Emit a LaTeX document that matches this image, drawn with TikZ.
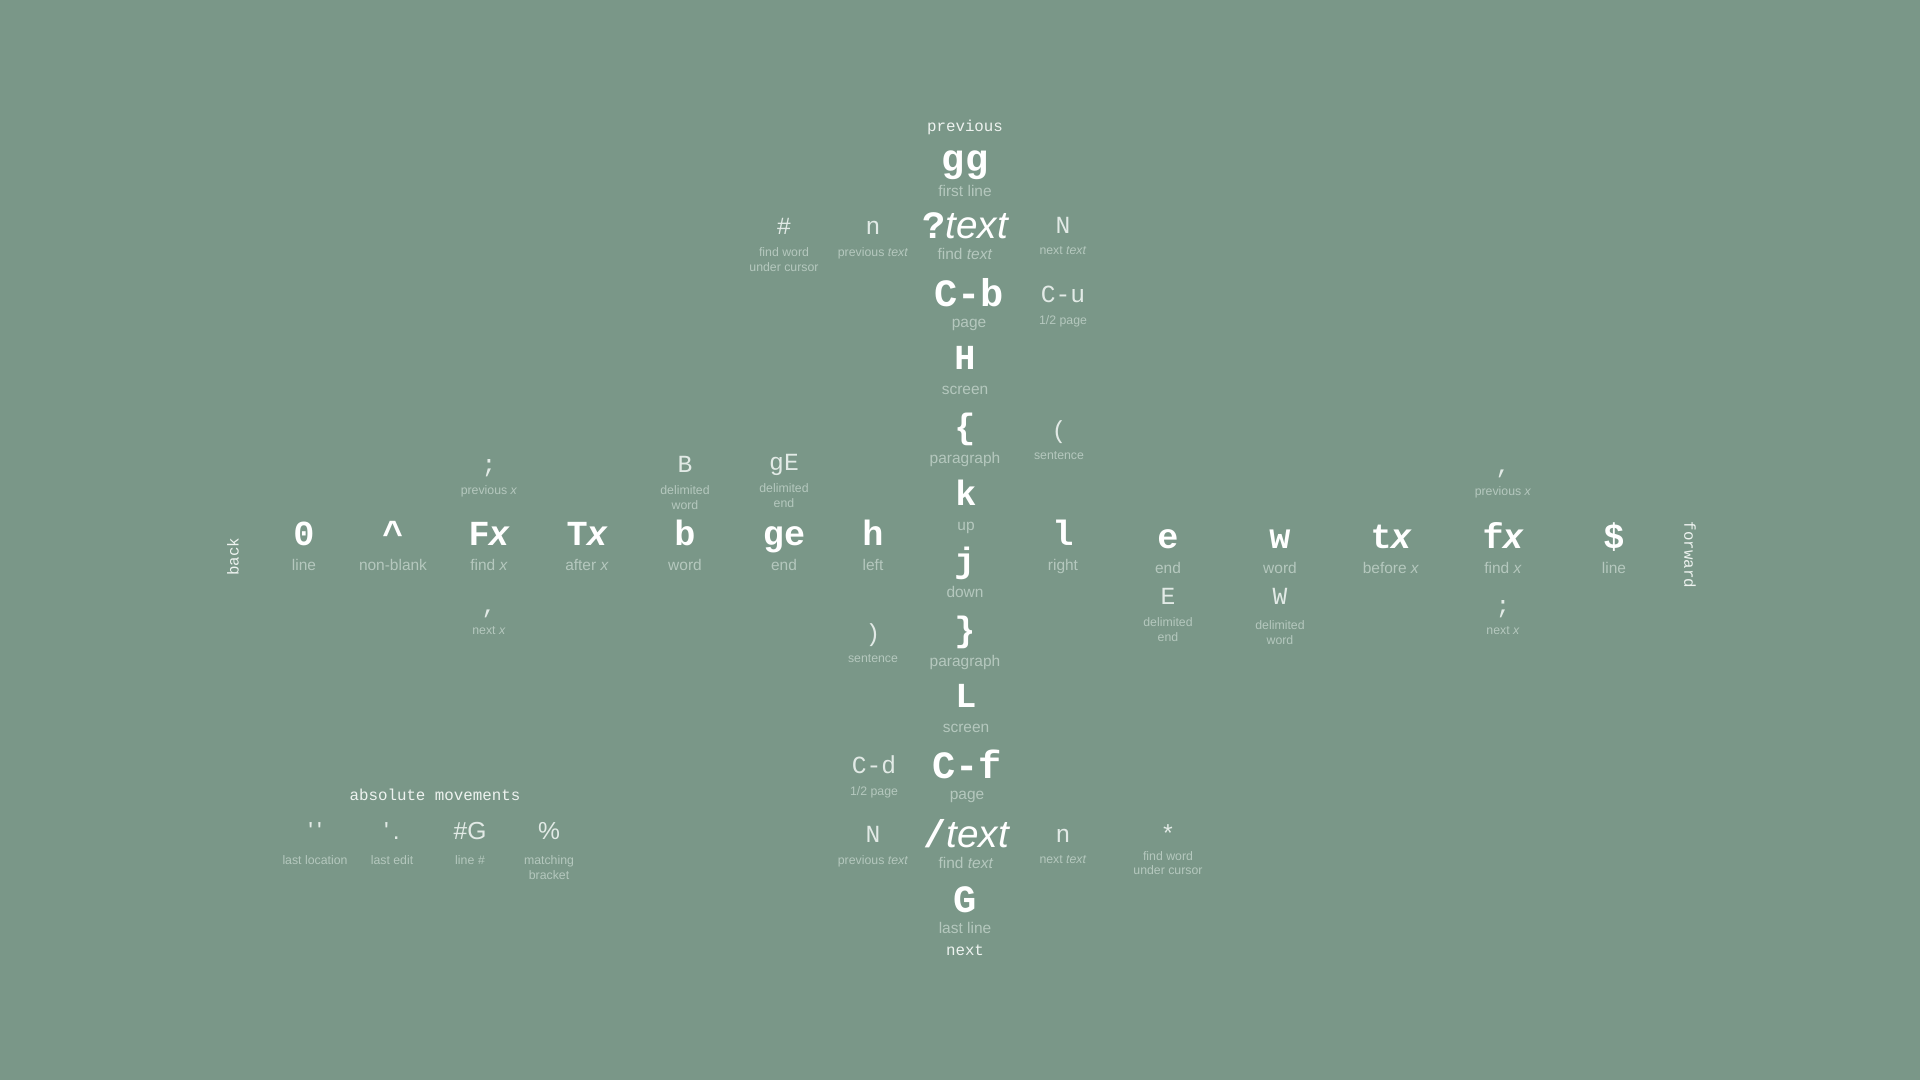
\documentclass[tikz,border=0pt]{standalone}
\usepackage{fontspec}
\setmainfont{Liberation Sans}
\newfontfamily\keyfont{Liberation Mono}
\definecolor{VimBg}{HTML}{7A9788}
\definecolor{VimKey}{HTML}{FFFFFF}
\definecolor{VimKeyDim}{HTML}{E2EAE6}
\definecolor{VimDesc}{HTML}{B5C8BE}
\definecolor{VimHead}{HTML}{EEF3F0}
\usetikzlibrary{positioning}

\begin{document}
\begin{tikzpicture}[x=0.01cm, y=-0.01cm, node distance=1.4pt,
    every node/.style={inner sep=0pt, align=center},
    keybox/.style={font=\keyfont\bfseries\fontsize{10}{12}\selectfont, text=VimKey, text height=7.5pt, text depth=2pt},
    bigkey/.style={keybox, font=\keyfont\bfseries\fontsize{11}{13}\selectfont},
    minorkey/.style={keybox, font=\keyfont\fontsize{7}{8}\selectfont, text=VimKeyDim},
    abskey/.style={keybox, font=\rmfamily\fontsize{7}{8}\selectfont, text=VimKeyDim},
    desc/.style={font=\fontsize{4.4}{5.2}\selectfont, text=VimDesc, text height=3.3pt},
    smalldesc/.style={font=\fontsize{3.5}{4.2}\selectfont, text=VimDesc},
    heading/.style={font=\keyfont\fontsize{4.5}{5.4}\selectfont, text=VimHead}]
  \fill[VimBg] (0,0) rectangle (1920,1080);

  % up and down
  \node[heading] (prev) at (965,127) {previous};
  \node[bigkey] (gg) at (965,162) {gg};
  \node[desc, below=of gg] (gg-d) {first line};
  \node[bigkey] (qtext) at (965,229) {?{\rmfamily\mdseries\itshape text}};
  \node[desc, below=0.3pt of qtext] (qtext-d) {find \textit{text}};
  \node[bigkey] (Cb) at (969,297) {C-b};
  \node[desc, below=0.3pt of Cb] (Cb-d) {page};
  \node[keybox] (H) at (965,360) {H};
  \node[desc, below=of H] (H-d) {screen};
  \node[keybox] (lbrace) at (965,429) {\{};
  \node[desc, below=of lbrace] (lbrace-d) {paragraph};
  \node[keybox] (k) at (966,496) {k};
  \node[desc, below=of k] (k-d) {up};
  \node[keybox] (j) at (965,563) {j};
  \node[desc, below=of j] (j-d) {down};
  \node[keybox] (rbrace) at (965,632) {\}};
  \node[desc, below=of rbrace] (rbrace-d) {paragraph};
  \node[keybox] (L) at (966,698) {L};
  \node[desc, below=of L] (L-d) {screen};
  \node[bigkey] (Cf) at (967,769) {C-f};
  \node[desc, below=0.3pt of Cf] (Cf-d) {page};
  \node[bigkey] (stext) at (966,838) {/{\rmfamily\mdseries\itshape text}};
  \node[desc, below=0.3pt of stext] (stext-d) {find \textit{text}};
  \node[bigkey] (G) at (965,903) {G};
  \node[desc, below=0.3pt of G] (G-d) {last line};
  \node[heading] (next) at (965,950) {next};

  % beside the column
  \node[minorkey] (hash) at (784,225) {\#};
  \node[smalldesc, below=of hash] (hash-d) {find word\\under cursor};
  \node[minorkey] (n) at (873,225) {n};
  \node[smalldesc, below=of n] (n-d) {previous \textit{text}};
  \node[minorkey] (N) at (1063,224) {N};
  \node[smalldesc, below=of N] (N-d) {next \textit{text}};
  \node[minorkey] (Cu) at (1063,293) {C-u};
  \node[smalldesc, below=of Cu] (Cu-d) {1/2 page};
  \node[minorkey] (lparen) at (1059,429) {(};
  \node[smalldesc, below=of lparen] (lparen-d) {sentence};
  \node[minorkey] (rparen) at (873,632) {)};
  \node[smalldesc, below=of rparen] (rparen-d) {sentence};
  \node[minorkey] (Cd) at (874,764) {C-d};
  \node[smalldesc, below=of Cd] (Cd-d) {1/2 page};
  \node[minorkey] (N2) at (873,833) {N};
  \node[smalldesc, below=of N2] (N2-d) {previous \textit{text}};
  \node[minorkey] (n2) at (1063,833) {n};
  \node[smalldesc, below=of n2] (n2-d) {next \textit{text}};
  \node[minorkey] (star) at (1168,833) {*};
  \node[smalldesc, below=0pt of star] (star-d) {find word\\under cursor};

  % back and forward
  \node[heading, rotate=90] (back) at (233,557) {back};
  \node[keybox] (zero) at (304,536) {0};
  \node[desc, below=of zero] (zero-d) {line};
  \node[keybox] (caret) at (393,536) {\textasciicircum};
  \node[desc, below=of caret] (caret-d) {non-blank};
  \node[minorkey] (semi) at (489,463) {;};
  \node[smalldesc, below=of semi] (semi-d) {previous \textit{x}};
  \node[keybox] (Fx) at (489,536) {F{\rmfamily\itshape x}};
  \node[desc, below=of Fx] (Fx-d) {find \textit{x}};
  \node[minorkey] (comma) at (489,604) {,};
  \node[smalldesc, below=of comma] (comma-d) {next \textit{x}};
  \node[keybox] (Tx) at (587,536) {T{\rmfamily\itshape x}};
  \node[desc, below=of Tx] (Tx-d) {after \textit{x}};
  \node[minorkey] (B) at (685,463) {B};
  \node[smalldesc, below=of B] (B-d) {delimited\\word};
  \node[keybox] (b) at (685,536) {b};
  \node[desc, below=of b] (b-d) {word};
  \node[minorkey] (gE) at (784,461) {gE};
  \node[smalldesc, below=of gE] (gE-d) {delimited\\end};
  \node[keybox] (ge) at (784,536) {ge};
  \node[desc, below=of ge] (ge-d) {end};
  \node[keybox] (h) at (873,536) {h};
  \node[desc, below=of h] (h-d) {left};
  \node[keybox] (l) at (1063,536) {l};
  \node[desc, below=of l] (l-d) {right};
  \node[keybox] (e) at (1168,539) {e};
  \node[desc, below=of e] (e-d) {end};
  \node[minorkey] (E) at (1168,595) {E};
  \node[smalldesc, below=of E] (E-d) {delimited\\end};
  \node[keybox] (w) at (1280,539) {w};
  \node[desc, below=of w] (w-d) {word};
  \node[minorkey] (W) at (1280,595) {W};
  \node[smalldesc, below=2.2pt of W] (W-d) {delimited\\word};
  \node[keybox] (tx) at (1391,539) {t{\rmfamily\itshape x}};
  \node[desc, below=of tx] (tx-d) {before \textit{x}};
  \node[minorkey] (comma2) at (1503,464) {,};
  \node[smalldesc, below=of comma2] (comma2-d) {previous \textit{x}};
  \node[keybox] (fx) at (1503,539) {f{\rmfamily\itshape x}};
  \node[desc, below=of fx] (fx-d) {find \textit{x}};
  \node[minorkey] (semi2) at (1503,604) {;};
  \node[smalldesc, below=of semi2] (semi2-d) {next \textit{x}};
  \node[keybox] (dollar) at (1614,539) {\$};
  \node[desc, below=of dollar] (dollar-d) {line};
  \node[heading, rotate=-90] (fwd) at (1690,555) {forward};

  % absolute movements
  \node[heading] (abs) at (435,795) {absolute movements};
  \node[abskey] (quotes) at (315,830) {\textquotesingle\,\textquotesingle};
  \node[smalldesc, below=2.2pt of quotes] (quotes-d) {last location};
  \node[abskey] (edit) at (392,830) {\textquotesingle\,.};
  \node[smalldesc, below=2.2pt of edit] (edit-d) {last edit};
  \node[abskey] (lineG) at (470,830) {\#G};
  \node[smalldesc, below=2.2pt of lineG] (lineG-d) {line \textit{\#}};
  \node[abskey] (pct) at (549,830) {\%};
  \node[smalldesc, below=2.2pt of pct] (pct-d) {matching\\bracket};
\end{tikzpicture}
\end{document}
